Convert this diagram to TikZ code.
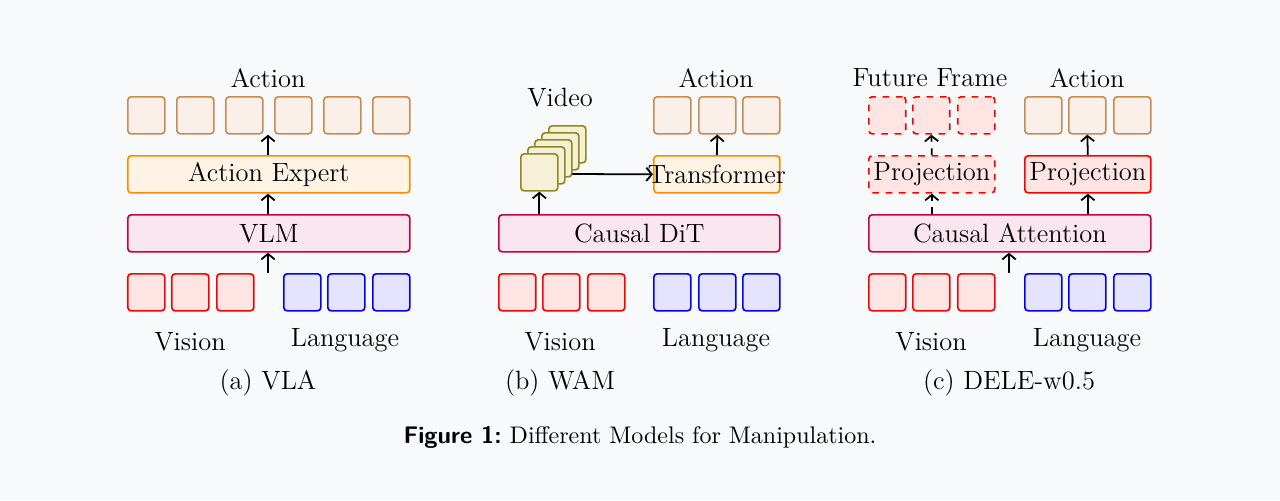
\documentclass[tikz,border=0pt]{standalone}
\usetikzlibrary{arrows.meta}
\definecolor{bg}{RGB}{248,249,251}
\definecolor{actd}{RGB}{200,140,80}\definecolor{actf}{RGB}{250,240,233}
\definecolor{expd}{RGB}{255,140,0}\definecolor{expf}{RGB}{255,243,230}
\definecolor{vlmd}{RGB}{200,0,70}\definecolor{vlmf}{RGB}{250,230,238}
\definecolor{visd}{RGB}{255,0,0}\definecolor{visf}{RGB}{255,228,228}
\definecolor{lang}{RGB}{0,0,255}\definecolor{langf}{RGB}{228,228,255}
\definecolor{vidd}{RGB}{140,140,30}\definecolor{vidf}{RGB}{245,240,215}
\tikzset{
 box/.style={rounded corners=1.5pt,line width=0.75pt,inner sep=0pt,anchor=north west},
 acttok/.style={box,draw=actd,fill=actf,minimum width=37*0.45pt,minimum height=37*0.45pt},
 vistok/.style={box,draw=visd,fill=visf,minimum width=37*0.45pt,minimum height=37*0.45pt},
 langtok/.style={box,draw=lang,fill=langf,minimum width=37*0.45pt,minimum height=37*0.45pt},
 futtok/.style={box,draw=visd,fill=visf,dashed,minimum width=37*0.45pt,minimum height=37*0.45pt},
 vidtok/.style={box,draw=vidd,fill=vidf,minimum width=37*0.45pt,minimum height=37*0.45pt},
 arr/.style={-{Straight Barb[length=2.5pt,width=6pt]},line width=0.8pt},
 lbl/.style={font=\fontsize{11.9}{14}\selectfont},
}
\begin{document}
\begin{tikzpicture}[x=0.45pt,y=-0.45pt,lbl]
\fill[bg] (0,0) rectangle (1280,500);
\useasboundingbox (0,0) rectangle (1280,500);
% ---------- panel a
\foreach \x [count=\i] in {127,176,225,274,323,372} \node[acttok] (aA\i) at (\x,96) {};
\node (aAl) at (268,78) {Action};
\node[box,draw=expd,fill=expf,minimum width=282*0.45pt,minimum height=37*0.45pt] (aE) at (127,155) {};
\node at (aE.center) {Action Expert};
\node[box,draw=vlmd,fill=vlmf,minimum width=282*0.45pt,minimum height=37*0.45pt] (aV) at (127,214) {};
\node at (aV.center) {VLM};
\foreach \x [count=\i] in {127,171,216} \node[vistok] (aVi\i) at (\x,273) {};
\foreach \x [count=\i] in {283,327,372} \node[langtok] (aL\i) at (\x,273) {};
\node (aVl) at (190,342) {Vision};
\node (aLl) at (345,340) {Language};
\coordinate (aIn) at (268,273);
\draw[arr] (aIn) -- (aIn|-aV.south);
\draw[arr] (aV.north-|aIn) -- (aE.south-|aIn);
\draw[arr] (aE.north-|aIn) -- (aIn|-aA3.south);
\node (aC) at (268,383) {(a) VLA};
% ---------- panel b
\foreach \x [count=\i] in {653,698,742} \node[acttok] (bA\i) at (\x,96) {};
\node (bAl) at (716,78) {Action};
\node[box,draw=expd,fill=expf,minimum width=126*0.45pt,minimum height=37*0.45pt] (bT) at (653,155) {};
\node[box,draw=vlmd,fill=vlmf,minimum width=281*0.45pt,minimum height=37*0.45pt] (bD) at (498,214) {};
\node at (bD.center) {Causal DiT};
\foreach \x [count=\i] in {498,542,587} \node[vistok] (bVi\i) at (\x,273) {};
\foreach \x [count=\i] in {653,698,742} \node[langtok] (bL\i) at (\x,273) {};
\node (bVl) at (560,342) {Vision};
\node (bLl) at (716,340) {Language};
\foreach \i in {4,3,2,1,0} \node[vidtok] (bF\i) at (520+7*\i,153-7*\i) {};
\node (bVd) at (560,98) {Video};
\draw[arr] (bF0.south|-bD.north) -- (bF0.south);
\coordinate (bFo) at (572,174);
\draw[arr] (bFo) -- (bT.west);
\node at (bT.center) {Transformer};
\draw[arr] (bT.north) -- (bA2.south);
\node (bC) at (560,383) {(b) WAM};
% ---------- panel c
\foreach \x [count=\i] in {868,912,957} \node[futtok] (cF\i) at (\x,96) {};
\foreach \x [count=\i] in {1024,1068,1113} \node[acttok] (cA\i) at (\x,96) {};
\node (cFl) at (930,78) {Future Frame};
\node (cAl) at (1087,78) {Action};
\node[box,draw=visd,fill=visf,dashed,minimum width=126*0.45pt,minimum height=37*0.45pt] (cP1) at (868,155) {};
\node at (cP1.center) {Projection};
\node[box,draw=visd,fill=visf,minimum width=126*0.45pt,minimum height=37*0.45pt] (cP2) at (1024,155) {};
\node at (cP2.center) {Projection};
\node[box,draw=vlmd,fill=vlmf,minimum width=282*0.45pt,minimum height=37*0.45pt] (cCA) at (868,214) {};
\node at (cCA.center) {Causal Attention};
\foreach \x [count=\i] in {868,912,957} \node[vistok] (cVi\i) at (\x,273) {};
\foreach \x [count=\i] in {1024,1068,1113} \node[langtok] (cL\i) at (\x,273) {};
\node (cVl) at (931,342) {Vision};
\node (cLl) at (1087,340) {Language};
\coordinate (cIn) at (1009,273);
\draw[arr] (cIn) -- (cIn|-cCA.south);
\draw[arr,dashed] (cP1.south|-cCA.north) -- (cP1.south);
\draw[arr,dashed] (cP1.north) -- (cF2.south);
\draw[arr] (cP2.south|-cCA.north) -- (cP2.south);
\draw[arr] (cP2.north) -- (cA2.south);
\node (cC) at (1009,383) {(c) DELE-w0.5};
% caption
\node[font=\fontsize{10.8}{13}\selectfont] (cap) at (640,437) {{\sffamily\bfseries Figure 1:}\ Different Models for Manipulation.};
\end{tikzpicture}
\end{document}
